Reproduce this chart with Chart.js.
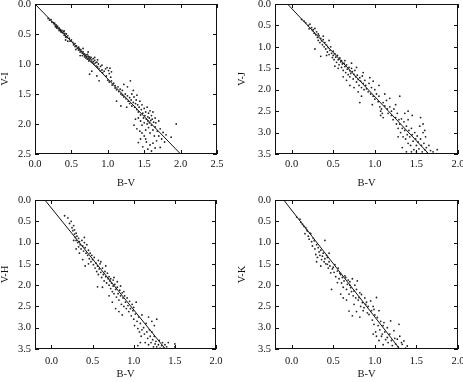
<!DOCTYPE html>
<html>
<head>
<meta charset="utf-8">
<script src="https://cdn.jsdelivr.net/npm/chart.js@4.4.1/dist/chart.umd.min.js"></script>
<style>
  html, body { margin: 0; padding: 0; background: #fff; }
  #wrap { position: relative; width: 463px; height: 382px; overflow: hidden; }
  #wrap canvas { position: absolute; }
</style>
</head>
<body>
<div id="wrap">
  <canvas id="cVI" width="231" height="191" style="left:0;top:0"></canvas>
  <canvas id="cVJ" width="232" height="191" style="left:231px;top:0"></canvas>
  <canvas id="cVH" width="231" height="191" style="left:0;top:191px"></canvas>
  <canvas id="cVK" width="232" height="191" style="left:231px;top:191px"></canvas>
</div>
<script>
// tick values
const bvTicksWide = [0, 0.5, 1, 1.5, 2, 2.5];
const bvTicks = [0, 0.5, 1, 1.5, 2];
const viTicks = [0, 0.5, 1, 1.5, 2, 2.5];
const irTicks = [0, 0.5, 1, 1.5, 2, 2.5, 3, 3.5];

// fitted relations, [B-V, colour] end points
const fitVI = [[0, 0], [2.0, 2.5]];
const fitVJ = [[-0.05, 0], [1.65, 3.5]];
const fitVH = [[-0.08, 0], [1.385, 3.5]];
const fitVK = [[-0.095, 0], [1.3, 3.5]];

// stars, [B-V, V-I]
const pointsVI = [
  [0.18,0.24],[0.2,0.27],[0.22,0.26],[0.23,0.3],[0.25,0.31],[0.26,0.33],[0.27,0.32],[0.28,0.36],[0.28,0.38],[0.29,0.35],
  [0.3,0.38],[0.3,0.4],[0.31,0.37],[0.32,0.41],[0.33,0.4],[0.33,0.44],[0.34,0.42],[0.35,0.45],[0.35,0.43],[0.36,0.47],
  [0.37,0.44],[0.38,0.48],[0.39,0.46],[0.4,0.52],[0.41,0.49],[0.42,0.55],[0.43,0.5],[0.44,0.56],[0.45,0.53],[0.47,0.57],
  [0.48,0.62],[0.5,0.6],[0.4,0.45],[0.42,0.6],[0.45,0.62],
  [0.52,0.64],[0.53,0.68],[0.55,0.66],[0.55,0.71],[0.57,0.7],[0.58,0.74],[0.6,0.72],[0.6,0.77],[0.61,0.75],[0.62,0.8],
  [0.63,0.76],[0.64,0.79],[0.65,0.82],[0.65,0.86],[0.66,0.8],[0.67,0.84],[0.68,0.83],[0.68,0.88],[0.69,0.86],[0.7,0.85],
  [0.7,0.9],[0.71,0.88],[0.72,0.84],[0.72,0.92],[0.73,0.87],[0.74,0.9],[0.74,0.95],[0.75,0.88],[0.75,0.93],[0.76,0.91],
  [0.77,0.89],[0.77,0.96],[0.78,0.93],[0.79,0.98],[0.8,0.91],[0.8,0.96],[0.81,1.0],[0.82,0.94],[0.83,0.98],[0.84,1.03],
  [0.85,0.97],[0.86,1.05],[0.87,1.0],[0.88,1.08],[0.9,1.04],[0.9,1.12],[0.92,1.1],[0.93,1.15],[0.95,1.12],[0.56,0.76],
  [0.62,0.86],[0.75,1.17],[0.78,1.12],[0.85,1.2],[0.88,1.28],[0.66,0.74],[0.73,0.8],[0.82,0.89],[0.86,0.93],[0.92,1.02],
  [0.97,1.08],[0.99,1.06],[1.01,1.11],[1.03,1.07],[1.05,1.13],[0.98,1.2],[1.02,1.16],[1.04,1.22],
  [1.0,1.27],[1.02,1.3],[1.05,1.28],[1.06,1.35],[1.08,1.32],[1.1,1.4],[1.1,1.36],[1.12,1.43],[1.14,1.38],[1.15,1.46],
  [1.17,1.42],[1.18,1.5],[1.2,1.44],[1.2,1.52],[1.22,1.55],[1.24,1.5],[1.25,1.58],[1.27,1.53],[1.28,1.62],[1.3,1.56],
  [1.3,1.66],[1.32,1.6],[1.33,1.7],[1.35,1.64],[1.36,1.55],[1.37,1.72],[1.38,1.66],[1.39,1.6],[1.4,1.76],[1.12,1.62],
  [1.18,1.7],[1.26,1.72],[1.31,1.28],[1.35,1.44],[1.27,1.38],[1.33,1.5],[1.4,1.52],[1.22,1.34],
  [1.41,1.68],[1.42,1.8],[1.42,1.9],[1.43,1.72],[1.44,1.62],[1.45,1.85],[1.45,1.95],[1.46,1.76],[1.47,1.68],[1.47,2.02],
  [1.48,1.82],[1.49,1.9],[1.5,1.74],[1.5,1.98],[1.51,1.86],[1.52,1.8],[1.52,2.1],[1.53,1.92],[1.54,1.72],[1.54,2.0],
  [1.55,1.88],[1.55,1.95],[1.56,1.82],[1.56,2.06],[1.57,1.9],[1.57,1.98],[1.58,1.78],[1.58,2.15],[1.59,1.94],[1.6,1.86],
  [1.6,2.02],[1.61,1.92],[1.62,2.1],[1.62,1.8],[1.63,1.97],[1.64,2.2],[1.65,1.9],[1.65,2.05],[1.66,1.98],[1.67,2.28],
  [1.68,2.12],[1.7,1.95],[1.7,2.2],[1.72,2.08],[1.72,2.39],[1.74,2.25],[1.76,2.14],[1.78,2.3],[1.8,2.18],[1.87,2.22],
  [1.94,2.0],[1.42,2.31],[1.45,2.25],[1.48,2.38],[1.5,2.2],[1.53,2.3],[1.55,2.42],[1.58,2.35],[1.6,2.45],[1.62,2.32],
  [1.65,2.4],[1.44,2.12],[1.38,1.92],[1.36,2.02],[1.4,2.08],[1.47,2.15],[1.52,2.25]
];

// stars, [B-V, V-J]
const pointsVJ = [
  [0.12,0.36],[0.15,0.4],[0.17,0.44],[0.2,0.5],[0.21,0.58],[0.22,0.47],[0.24,0.55],[0.25,0.62],[0.26,0.6],[0.27,0.68],
  [0.28,0.57],[0.29,0.72],[0.3,0.65],[0.31,0.78],[0.32,0.7],[0.32,0.85],[0.33,0.74],[0.34,0.9],[0.35,0.8],[0.36,0.86],
  [0.37,0.95],[0.38,0.83],[0.39,1.0],[0.4,0.9],[0.41,1.05],[0.42,0.96],[0.43,1.12],[0.44,1.02],[0.45,1.18],[0.46,1.08],
  [0.47,1.0],[0.48,1.15],[0.49,1.25],[0.28,1.05],[0.35,1.22],[0.42,1.2],[0.38,0.75],[0.45,0.85],
  [0.5,1.1],[0.5,1.2],[0.51,1.3],[0.52,1.16],[0.53,1.24],[0.54,1.36],[0.55,1.2],[0.56,1.3],[0.57,1.42],[0.58,1.26],
  [0.59,1.35],[0.6,1.48],[0.6,1.32],[0.61,1.4],[0.62,1.55],[0.63,1.38],[0.64,1.46],[0.65,1.6],[0.66,1.42],[0.67,1.52],
  [0.68,1.65],[0.69,1.48],[0.7,1.56],[0.7,1.7],[0.71,1.62],[0.72,1.5],[0.73,1.58],[0.74,1.75],[0.75,1.64],[0.76,1.55],
  [0.77,1.7],[0.78,1.82],[0.79,1.66],[0.8,1.76],[0.81,1.9],[0.82,1.72],[0.83,1.8],[0.84,1.95],[0.85,1.68],[0.86,1.85],
  [0.87,2.0],[0.88,1.78],[0.89,1.9],[0.56,1.5],[0.62,1.7],[0.66,1.78],[0.7,1.9],[0.75,1.95],[0.8,2.05],[0.84,2.15],
  [0.82,2.3],[0.72,1.38],[0.78,1.48],[0.64,1.32],[0.86,1.6],[0.52,1.45],
  [0.9,1.98],[0.92,2.05],[0.93,1.85],[0.95,2.1],[0.96,1.95],[0.98,2.15],[1.0,2.0],[1.0,2.22],[1.02,2.1],[1.04,2.28],
  [1.05,2.15],[1.06,2.4],[1.07,2.5],[1.07,2.6],[1.08,2.45],[1.09,2.55],[1.1,2.3],[1.1,2.65],[1.12,2.38],[1.14,2.25],
  [1.15,2.45],[1.16,2.55],[1.18,2.4],[1.2,2.6],[1.2,2.5],[1.22,2.7],[1.23,2.45],[1.25,2.65],[1.26,2.8],[1.27,2.55],
  [1.28,2.9],[1.29,2.7],[1.3,2.15],[0.94,1.72],[0.98,1.8],[1.12,2.1],[1.18,2.2],[1.25,2.35],[1.05,1.9],[0.97,2.35],
  [1.3,2.8],[1.31,3.0],[1.32,2.68],[1.33,2.9],[1.34,3.1],[1.35,2.75],[1.36,2.95],[1.37,3.15],[1.38,2.85],[1.39,3.05],
  [1.4,3.25],[1.4,2.7],[1.41,2.95],[1.42,3.1],[1.43,3.3],[1.44,2.9],[1.45,3.05],[1.46,3.2],[1.47,3.4],[1.48,3.0],
  [1.49,3.15],[1.5,3.3],[1.5,3.45],[1.51,3.08],[1.52,3.22],[1.53,3.38],[1.54,2.85],[1.55,3.15],[1.56,3.3],[1.57,3.45],
  [1.58,3.0],[1.59,3.25],[1.6,3.4],[1.61,3.1],[1.62,3.35],[1.63,3.48],[1.65,3.3],[1.67,3.42],[1.7,3.45],[1.75,3.4],
  [1.55,2.65],[1.58,2.8],[1.6,2.95],[1.36,2.55],[1.4,2.5],[1.45,2.6],[1.33,3.35],[1.38,3.45],[1.28,3.1],[1.44,3.45]
];

// stars, [B-V, V-H]
const pointsVH = [
  [0.16,0.37],[0.2,0.42],[0.22,0.55],[0.24,0.5],[0.25,0.65],[0.26,0.72],[0.27,0.6],[0.28,0.8],[0.28,0.7],[0.29,0.88],
  [0.3,0.78],[0.3,0.95],[0.31,0.85],[0.32,1.0],[0.33,0.9],[0.33,1.1],[0.34,0.98],[0.35,1.05],[0.36,1.15],[0.37,0.95],
  [0.38,1.08],[0.39,1.2],[0.4,1.0],[0.41,1.12],[0.42,1.25],[0.43,1.05],[0.44,1.3],[0.45,1.18],[0.46,1.38],[0.47,1.25],
  [0.48,1.45],[0.49,1.3],[0.3,1.15],[0.34,1.25],[0.4,0.88],[0.38,1.4],[0.27,0.95],[0.45,1.5],[0.41,1.55],
  [0.5,1.4],[0.51,1.52],[0.52,1.35],[0.53,1.6],[0.54,1.48],[0.55,1.68],[0.56,1.55],[0.57,1.42],[0.57,1.75],[0.58,1.62],
  [0.59,1.5],[0.6,1.7],[0.61,1.82],[0.62,1.6],[0.63,1.75],[0.64,1.9],[0.65,1.68],[0.66,1.8],[0.67,1.95],[0.68,1.72],
  [0.69,1.85],[0.7,1.8],[0.7,2.0],[0.71,1.9],[0.72,1.85],[0.72,2.08],[0.73,1.95],[0.74,2.15],[0.75,1.88],[0.75,2.02],
  [0.76,2.2],[0.77,1.98],[0.78,2.1],[0.79,2.28],[0.8,2.05],[0.81,2.2],[0.82,2.35],[0.83,2.12],[0.84,2.25],[0.85,2.45],
  [0.86,2.18],[0.87,2.3],[0.88,2.5],[0.89,2.25],[0.56,2.04],[0.6,1.45],[0.66,1.55],[0.62,2.05],[0.7,2.25],[0.74,2.4],
  [0.78,2.55],[0.82,2.62],[0.86,2.7],[0.76,1.82],[0.8,1.92],[0.84,2.02],[0.88,2.15],
  [0.9,2.4],[0.91,2.55],[0.92,2.3],[0.93,2.48],[0.94,2.62],[0.95,2.38],[0.96,2.55],[0.97,2.72],[0.98,2.45],[0.99,2.6],
  [1.0,2.8],[1.0,2.52],[1.01,2.95],[1.02,2.68],[1.03,2.4],[1.04,2.85],[1.05,3.02],[1.06,2.75],[1.07,3.1],[1.08,2.9],
  [1.09,3.2],[1.1,3.05],[1.1,2.7],[1.12,3.0],[1.13,3.15],[1.14,3.35],[1.15,2.9],[1.16,3.1],[1.17,3.25],[1.18,3.4],
  [1.19,3.05],[1.2,3.2],[1.08,3.35],[1.05,3.42],
  [1.21,3.35],[1.22,3.1],[1.23,3.28],[1.24,3.45],[1.25,3.2],[1.26,3.38],[1.27,3.32],[1.28,3.45],[1.28,2.8],[1.3,3.4],
  [1.31,3.3],[1.32,3.48],[1.34,3.42],[1.35,3.35],[1.36,3.48],[1.38,3.4],[1.4,3.45],[1.42,3.35],[1.5,3.38],[1.5,3.45],
  [1.25,2.95],[1.22,2.85],[1.18,2.75]
];

// stars, [B-V, V-K]
const pointsVK = [
  [0.06,0.4],[0.1,0.45],[0.11,0.52],[0.13,0.57],[0.15,0.62],[0.16,0.79],[0.17,0.65],[0.18,0.7],[0.19,0.73],[0.2,0.85],
  [0.21,0.92],[0.22,0.78],[0.23,0.79],[0.24,0.98],[0.25,1.08],[0.26,0.9],[0.27,0.96],[0.28,1.15],[0.29,1.28],[0.3,1.05],
  [0.31,1.35],[0.32,1.12],[0.33,1.22],[0.34,1.3],[0.35,1.18],[0.36,1.4],[0.37,1.32],[0.38,1.25],[0.39,1.45],[0.4,1.38],
  [0.41,1.5],[0.42,1.3],[0.43,1.35],[0.43,1.51],[0.44,1.6],[0.45,1.45],[0.46,1.55],[0.47,1.71],[0.48,2.1],[0.49,1.62],
  [0.4,0.95],[0.35,1.55],[0.3,1.45],[0.45,1.25],
  [0.5,1.58],[0.51,1.7],[0.52,1.52],[0.53,1.8],[0.55,1.67],[0.55,1.94],[0.56,1.6],[0.57,1.85],[0.58,1.72],[0.59,1.75],
  [0.59,2.21],[0.6,1.95],[0.61,1.82],[0.62,2.05],[0.63,1.9],[0.64,1.78],[0.65,1.82],[0.66,2.1],[0.67,1.98],[0.68,1.88],
  [0.69,2.21],[0.7,2.0],[0.7,1.92],[0.71,2.06],[0.72,2.15],[0.73,1.85],[0.74,2.25],[0.75,2.14],[0.75,2.45],[0.76,2.0],
  [0.77,2.3],[0.78,2.1],[0.79,1.9],[0.8,2.35],[0.81,2.29],[0.82,2.18],[0.83,2.5],[0.84,2.22],[0.85,2.41],[0.86,2.6],
  [0.87,2.53],[0.88,2.3],[0.89,2.45],[0.69,2.61],[0.73,2.72],[0.62,2.3],[0.66,2.35],[0.78,2.62],[0.82,2.75],
  [0.9,2.4],[0.91,2.65],[0.92,2.5],[0.93,2.69],[0.95,2.37],[0.96,2.6],[0.97,2.82],[0.98,2.5],[0.99,2.57],[0.99,2.92],
  [1.0,2.7],[1.01,3.1],[1.02,2.29],[1.03,2.76],[1.04,2.95],[1.05,2.6],[1.06,3.05],[1.07,2.85],[1.08,3.2],[1.09,3.15],
  [1.1,2.95],[1.11,2.88],[1.12,3.1],[1.13,3.28],[1.15,3.0],[1.15,3.23],[1.16,3.35],[1.18,3.15],[1.19,2.84],[1.2,3.3],
  [1.21,3.42],[1.23,3.07],[1.24,3.25],[1.25,3.38],[1.27,3.27],[1.28,3.45],[1.29,2.92],[1.3,3.2],[1.32,3.35],[1.33,3.39],
  [1.35,3.31],[1.37,3.48],[1.39,3.43],[1.05,3.3],[1.1,3.4],[0.98,3.15],[1.02,3.2]
];

const serif = '"Liberation Serif", "DejaVu Serif", serif';
const ink = '#111';

// inward tick marks on all four sides plus the closed frame
const frameTicks = {
  id: 'frameTicks',
  afterDraw(chart) {
    const { ctx, chartArea: a, scales: { x, y } } = chart;
    const len = 4;
    ctx.save();
    ctx.strokeStyle = ink;
    ctx.lineWidth = 1;
    ctx.beginPath();
    x.ticks.forEach((t) => {
      const px = Math.round(x.getPixelForValue(t.value)) + 0.5;
      ctx.moveTo(px, a.bottom); ctx.lineTo(px, a.bottom - len);
      ctx.moveTo(px, a.top); ctx.lineTo(px, a.top + len);
    });
    y.ticks.forEach((t) => {
      const py = Math.round(y.getPixelForValue(t.value)) + 0.5;
      ctx.moveTo(a.left, py); ctx.lineTo(a.left + len, py);
      ctx.moveTo(a.right, py); ctx.lineTo(a.right - len, py);
    });
    ctx.stroke();
    ctx.strokeRect(Math.round(a.left) + 0.5, Math.round(a.top) + 0.5, Math.round(a.width) - 1, Math.round(a.height) - 1);
    ctx.restore();
  }
};

function makePanel(cfg) {
  const font = { family: serif, size: 10.5, lineHeight: 1.2 };
  new Chart(document.getElementById(cfg.id), {
    type: 'scatter',
    data: {
      datasets: [{
        data: cfg.points.map(([x, y]) => ({ x, y })),
        pointRadius: 0.9,
        pointBorderWidth: 0,
        backgroundColor: '#222'
      }, {
        type: 'line',
        data: cfg.fit.map(([x, y]) => ({ x, y })),
        borderColor: ink,
        borderWidth: 1,
        pointRadius: 0,
        fill: false
      }]
    },
    options: {
      responsive: false,
      animation: false,
      events: [],
      layout: { padding: cfg.pad },
      plugins: { legend: { display: false }, tooltip: { enabled: false } },
      scales: {
        x: {
          type: 'linear',
          min: cfg.xMin,
          max: cfg.xMax,
          grid: { display: false, drawTicks: false },
          border: { display: false },
          afterBuildTicks: (s) => { s.ticks = cfg.xTicks.map((value) => ({ value })); },
          afterFit: (s) => { s.height = cfg.xHeight; s.paddingLeft = 0; s.paddingRight = 0; },
          ticks: {
            autoSkip: false, maxRotation: 0, padding: cfg.labelGap, color: ink, font,
            callback: (v) => Number(v).toFixed(1)
          },
          title: { display: true, text: 'B-V', color: ink, font: { ...font, lineHeight: 1 }, padding: { top: 0, bottom: 3 } }
        },
        y: {
          type: 'linear',
          reverse: true,
          min: 0,
          max: cfg.yMax,
          grid: { display: false, drawTicks: false },
          border: { display: false },
          afterBuildTicks: (s) => { s.ticks = cfg.yTicks.map((value) => ({ value })); },
          afterFit: (s) => { s.width = cfg.yWidth; s.paddingTop = 0; s.paddingBottom = 0; },
          ticks: {
            autoSkip: false, padding: 4, color: ink, font,
            callback: (v) => Number(v).toFixed(1)
          },
          title: { display: true, text: cfg.title, color: ink, font: { ...font, lineHeight: 1 }, padding: { top: 0, bottom: 0 } }
        }
      }
    },
    plugins: [frameTicks]
  });
}

[
  { id: 'cVI', points: pointsVI, fit: fitVI, title: 'V-I', xMin: 0, xMax: 2.5, xTicks: bvTicksWide, yMax: 2.5, yTicks: viTicks,
    pad: { left: 0, top: 4, right: 14, bottom: 0 }, yWidth: 35, xHeight: 37, labelGap: 4 },
  { id: 'cVJ', points: pointsVJ, fit: fitVJ, title: 'V-J', xMin: -0.2, xMax: 2.0, xTicks: bvTicks, yMax: 3.5, yTicks: irTicks,
    pad: { left: 6, top: 4, right: 5, bottom: 0 }, yWidth: 38, xHeight: 37, labelGap: 4 },
  { id: 'cVH', points: pointsVH, fit: fitVH, title: 'V-H', xMin: -0.2, xMax: 2.0, xTicks: bvTicks, yMax: 3.5, yTicks: irTicks,
    pad: { left: 0, top: 9, right: 15, bottom: 0 }, yWidth: 35, xHeight: 33, labelGap: 6 },
  { id: 'cVK', points: pointsVK, fit: fitVK, title: 'V-K', xMin: -0.2, xMax: 2.0, xTicks: bvTicks, yMax: 3.5, yTicks: irTicks,
    pad: { left: 6, top: 9, right: 5, bottom: 0 }, yWidth: 38, xHeight: 33, labelGap: 6 }
].forEach(makePanel);
</script>
</body>
</html>
